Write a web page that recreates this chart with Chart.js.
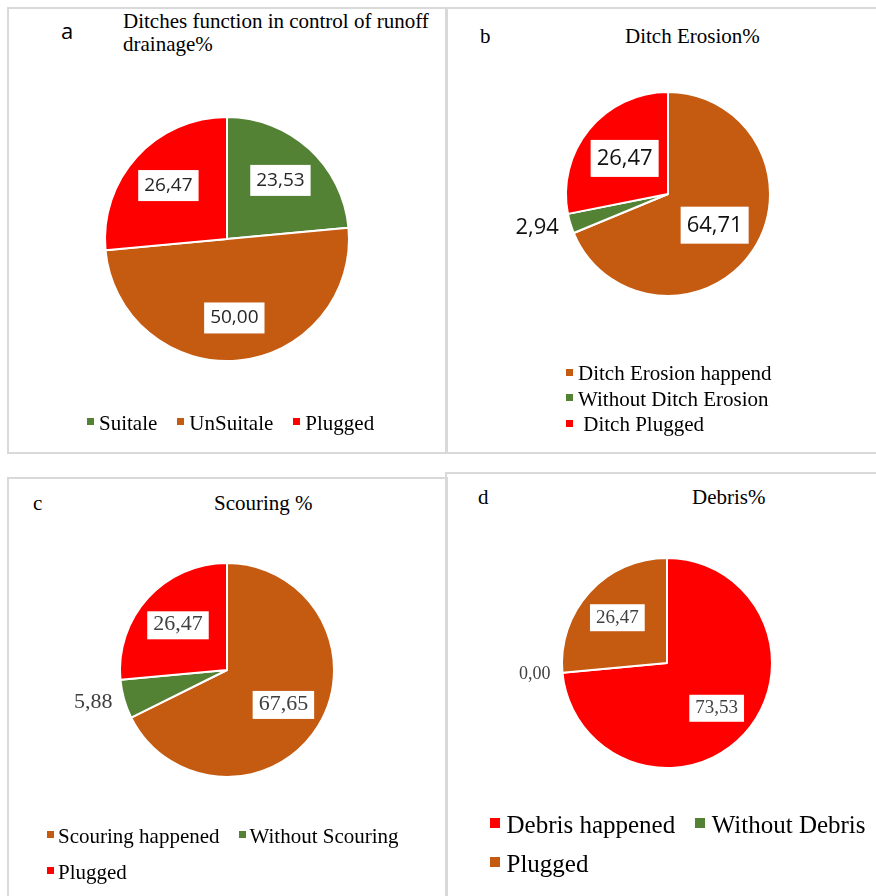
<!DOCTYPE html>
<html lang="en">
<head>
<meta charset="UTF-8">
<title>Ditch survey</title>
<script src="https://cdn.jsdelivr.net/npm/chart.js@4.4.0/dist/chart.umd.min.js"></script>
<style>
  body { margin: 0; background: #fff; width: 876px; height: 896px; overflow: hidden; position: relative; }
  .panel { position: absolute; box-sizing: border-box; border: 2px solid #d9d9d9; }
  .txt { position: absolute; white-space: pre; font-family: "Liberation Serif", "Times New Roman", serif; font-size: 21px; line-height: 24px; color: #000; }
  .sans { font-family: "Open Sans", sans-serif; font-size: 22px; line-height: 30px; }
  .legend { position: absolute; display: flex; flex-wrap: wrap; font-family: "Liberation Serif", "Times New Roman", serif; color: #000; }
  .legend .item { display: flex; align-items: center; white-space: pre; }
  .legend .item i { display: inline-block; flex: none; }
  canvas { position: absolute; }
</style>
</head>
<body>
<div class="panel" style="left:7px;top:7px;width:441px;height:447px"></div>
<div class="panel" style="left:445px;top:7px;width:440px;height:447px"></div>
<div class="panel" style="left:7px;top:477px;width:441px;height:430px"></div>
<div class="panel" style="left:445px;top:472px;width:440px;height:440px"></div>

<div class="txt sans" style="left:61px;top:15px">a</div>
<div class="txt" style="left:123px;top:10px;line-height:23px">Ditches function in control of runoff
drainage%</div>
<div class="txt" style="left:480px;top:24px">b</div>
<div class="txt" style="left:625px;top:24px">Ditch Erosion%</div>
<div class="txt" style="left:33px;top:491px">c</div>
<div class="txt" style="left:214px;top:491px">Scouring %</div>
<div class="txt" style="left:478px;top:485px">d</div>
<div class="txt" style="left:692px;top:485px">Debris%</div>

<canvas id="pieA"></canvas>
<canvas id="pieB"></canvas>
<canvas id="pieC"></canvas>
<canvas id="pieD"></canvas>

<div class="legend" id="legendA"></div>
<div class="legend" id="legendB"></div>
<div class="legend" id="legendC"></div>
<div class="legend" id="legendD"></div>

<script>
const GREEN = '#548235';
const ORANGE = '#C55A11';
const RED = '#FF0000';

// a - ditches function in control of runoff drainage (%)
const categoriesA = ['Suitale', 'UnSuitale', 'Plugged'];
const valuesA = [23.53, 50.00, 26.47];
const coloursA = [GREEN, ORANGE, RED];

// b - ditch erosion (%)
const categoriesB = ['Ditch Erosion happend', 'Without Ditch Erosion', ' Ditch Plugged'];
const valuesB = [64.71, 2.94, 26.47];
const coloursB = [ORANGE, GREEN, RED];

// c - scouring (%)
const categoriesC = ['Scouring happened', 'Without Scouring', 'Plugged'];
const valuesC = [67.65, 5.88, 26.47];
const coloursC = [ORANGE, GREEN, RED];

// d - debris (%)
const categoriesD = ['Debris happened', 'Without Debris', 'Plugged'];
const valuesD = [73.53, 0.00, 26.47];
const coloursD = [RED, GREEN, ORANGE];

// value labels: boxed inside the slice, plain text outside for thin slices
const sliceLabels = {
    id: 'sliceLabels',
    afterDatasetsDraw(chart, args, opts) {
        const ctx = chart.ctx;
        const values = chart.data.datasets[0].data;
        ctx.save();
        ctx.textBaseline = 'alphabetic';
        chart.getDatasetMeta(0).data.forEach((arc, i) => {
            const p = arc.getProps(['x', 'y', 'startAngle', 'endAngle', 'outerRadius'], true);
            const mid = (p.startAngle + p.endAngle) / 2;
            const text = values[i].toFixed(2).replace('.', ',');
            const outside = values[i] < opts.outsideBelow;
            ctx.font = outside && opts.outsideFont ? opts.outsideFont : opts.font;
            const m = ctx.measureText(text);
            const shift = (m.actualBoundingBoxAscent - m.actualBoundingBoxDescent) / 2;
            if (outside) {
                const d = p.outerRadius + opts.outsideGap;
                const px = p.x + Math.cos(mid) * d;
                const py = p.y + Math.sin(mid) * d;
                ctx.textAlign = Math.cos(mid) < 0 ? 'right' : 'left';
                ctx.fillStyle = opts.color;
                ctx.fillText(text, px, py + shift);
            } else {
                const d = p.outerRadius * opts.inside;
                const px = p.x + Math.cos(mid) * d;
                const py = p.y + Math.sin(mid) * d;
                const w = m.width + opts.padX * 2;
                ctx.fillStyle = '#fff';
                ctx.fillRect(px - w / 2, py - opts.boxH / 2, w, opts.boxH);
                ctx.textAlign = 'center';
                ctx.fillStyle = opts.color;
                ctx.fillText(text, px, py + shift);
            }
        });
        ctx.restore();
    }
};

function drawPie(id, box, cx, cy, r, values, colours, labelOpts) {
    const canvas = document.getElementById(id);
    const [left, top, w, h] = box;
    canvas.width = w;
    canvas.height = h;
    canvas.style.left = left + 'px';
    canvas.style.top = top + 'px';
    const half = r + 2;
    new Chart(canvas, {
        type: 'pie',
        data: {
            labels: values.map((v, i) => i),
            datasets: [{
                data: values,
                backgroundColor: colours,
                borderColor: '#fff',
                borderWidth: 2
            }]
        },
        options: {
            responsive: false,
            animation: false,
            layout: {
                padding: {
                    left: cx - half - left,
                    top: cy - half - top,
                    right: left + w - (cx + half),
                    bottom: top + h - (cy + half)
                }
            },
            plugins: {
                legend: { display: false },
                tooltip: { enabled: false },
                sliceLabels: labelOpts
            }
        },
        plugins: [sliceLabels]
    });
}

function buildLegend(id, names, colours, layout) {
    const el = document.getElementById(id);
    el.style.left = layout.left + 'px';
    el.style.top = layout.top + 'px';
    el.style.width = layout.width + 'px';
    el.style.fontSize = layout.fontSize + 'px';
    el.style.lineHeight = layout.lineHeight + 'px';
    el.style.flexDirection = layout.column ? 'column' : 'row';
    el.style.columnGap = layout.colGap + 'px';
    el.style.rowGap = layout.rowGap + 'px';
    names.forEach((name, i) => {
        const item = document.createElement('span');
        item.className = 'item';
        const sw = document.createElement('i');
        sw.style.width = layout.square + 'px';
        sw.style.height = layout.square + 'px';
        sw.style.background = colours[i];
        sw.style.marginRight = layout.textGap + 'px';
        sw.style.marginTop = '-3px';
        item.appendChild(sw);
        item.appendChild(document.createTextNode(name));
        el.appendChild(item);
    });
}

drawPie('pieA', [9, 9, 437, 443], 227, 239, 121, valuesA, coloursA, {
    font: '19px "Open Sans"', color: '#262626', inside: 0.65, padX: 6, boxH: 31,
    outsideBelow: 8, outsideGap: 12
});
drawPie('pieB', [447, 9, 429, 443], 668, 194, 101, valuesB, coloursB, {
    font: '22px "Open Sans"', color: '#111', inside: 0.55, padX: 6, boxH: 37,
    outsideBelow: 8, outsideGap: 12
});
drawPie('pieC', [9, 479, 437, 417], 227, 670, 106, valuesC, coloursC, {
    font: '22px "Liberation Serif"', color: '#404040', inside: 0.62, padX: 6, boxH: 28,
    outsideBelow: 8, outsideGap: 12
});
drawPie('pieD', [447, 474, 429, 422], 667, 663, 104, valuesD, coloursD, {
    font: '19px "Liberation Serif"', outsideFont: '18px "Liberation Serif"', color: '#404040',
    inside: 0.64, padX: 6, boxH: 27, outsideBelow: 8, outsideGap: 12
});

buildLegend('legendA', categoriesA, coloursA,
    { left: 87, top: 411, width: 345, fontSize: 21, lineHeight: 24, colGap: 20, rowGap: 0, square: 7, textGap: 5 });
buildLegend('legendB', categoriesB, coloursB,
    { left: 566, top: 361, width: 300, fontSize: 21, lineHeight: 25.5, colGap: 0, rowGap: 0, square: 7, textGap: 5, column: true });
buildLegend('legendC', categoriesC, coloursC,
    { left: 47, top: 824, width: 370, fontSize: 21, lineHeight: 24, colGap: 19, rowGap: 11.5, square: 7, textGap: 4 });
buildLegend('legendD', categoriesD, coloursD,
    { left: 490, top: 810, width: 386, fontSize: 25, lineHeight: 29, colGap: 20, rowGap: 10, square: 9.5, textGap: 7 });
</script>
</body>
</html>
